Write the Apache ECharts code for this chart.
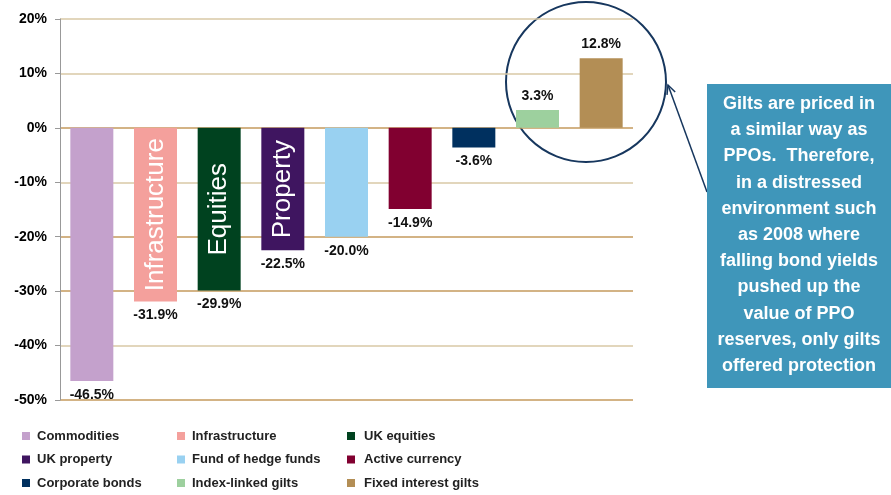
<!DOCTYPE html>
<html>
<head>
<meta charset="utf-8">
<script src="https://cdn.jsdelivr.net/npm/echarts@6/dist/echarts.min.js"></script>
<style>
    html, body { margin: 0; padding: 0; background: #fff; }
    #chart { width: 891px; height: 495px; }
</style>
</head>
<body>
<div id="chart"></div>
<script>
// asset classes, in bar order (legend reads row by row)
const categories = [
    "Commodities", "Infrastructure", "UK equities",
    "UK property", "Fund of hedge funds", "Active currency",
    "Corporate bonds", "Index-linked gilts", "Fixed interest gilts"
];
const values = [-46.5, -31.9, -29.9, -22.5, -20.0, -14.9, -3.6, 3.3, 12.8];
const colors = [
    "#c4a1cc", "#f4a09c", "#00421f",
    "#3f1560", "#99d1f1", "#810030",
    "#00305f", "#9dd09e", "#b38e55"
];
// text written up the inside of some bars
const innerLabels = [null, "Infrastructure", "Equities", "Property", null, null, null, null, null];
const yTicks = { min: -50, max: 20, interval: 10 };
const note = "Gilts are priced in\na similar way as\nPPOs.  Therefore,\nin a distressed\nenvironment such\nas 2008 where\nfalling bond yields\npushed up the\nvalue of PPO\nreserves, only gilts\noffered protection";

const font = "Arial, 'Liberation Sans', sans-serif";
const gridDark = "#c49a5c";
const gridLight = "#d9c8a6";

const chart = echarts.init(document.getElementById("chart"));

const series = categories.map((name, i) => ({
    name: name,
    type: "bar",
    stack: "all",
    barWidth: 43,
    itemStyle: { color: colors[i] },
    data: values.map((v, j) => (j === i ? v : "-")),
    label: {
        show: true,
        position: values[i] < 0 ? "bottom" : "top",
        distance: 7,
        formatter: p => p.value.toFixed(1) + "%",
        fontFamily: font,
        fontSize: 14,
        fontWeight: "bold",
        color: "#111"
    },
    markPoint: innerLabels[i] ? {
        silent: true,
        symbol: "rect",
        symbolSize: 0,
        data: [{ coord: [i, values[i] / 2] }],
        label: {
            show: true,
            position: "inside",
            rotate: 90,
            formatter: innerLabels[i],
            fontFamily: font,
            fontSize: 26,
            color: "#fff"
        }
    } : undefined
}));

const legendLeft = [22, 177, 347];
const legendTextLeft = [0, 0, 2];

// arrow from note box to circle
const tail = [707, 192], tip = [668, 85];
const dx = tail[0] - tip[0], dy = tail[1] - tip[1];
const len = Math.sqrt(dx * dx + dy * dy);
const bx = dx / len, by = dy / len;
function wing(a) {
    const c = Math.cos(a), s = Math.sin(a);
    return [tip[0] + 10 * (bx * c - by * s), tip[1] + 10 * (bx * s + by * c)];
}

const options = {
    animation: false,
    grid: { left: 60, right: 258, top: 19, bottom: 95 },
    xAxis: {
        type: "category",
        data: categories,
        axisLine: { show: false },
        axisTick: { show: false },
        axisLabel: { show: false }
    },
    yAxis: {
        type: "value",
        min: yTicks.min,
        max: yTicks.max,
        interval: yTicks.interval,
        axisLine: { show: true, lineStyle: { color: "#999", width: 1 } },
        axisTick: { show: true, length: 5, lineStyle: { color: "#999" } },
        axisLabel: {
            formatter: "{value}%",
            margin: 13,
            fontFamily: font,
            fontSize: 14,
            fontWeight: "bold",
            color: "#000"
        },
        splitLine: {
            show: true,
            lineStyle: {
                width: 1.5,
                color: [gridDark, gridLight, gridDark, gridDark, gridLight, gridDark, gridLight, gridLight]
            }
        }
    },
    legend: legendLeft.map((left, c) => ({
        orient: "vertical",
        left: left,
        top: 429,
        padding: 0,
        height: 66,
        icon: "rect",
        itemWidth: 8,
        itemHeight: 8,
        itemGap: 9.5,
        selectedMode: false,
        data: [categories[c], categories[c + 3], categories[c + 6]],
        textStyle: {
            fontFamily: font,
            fontSize: 13,
            fontWeight: "bold",
            color: "#222",
            lineHeight: 14,
            padding: [0, 0, 0, legendTextLeft[c] + 2]
        }
    })),
    series: series,
    graphic: [
        {
            type: "circle",
            silent: true,
            shape: { cx: 586, cy: 82, r: 80 },
            style: { fill: null, stroke: "#17375e", lineWidth: 2 }
        },
        {
            type: "polyline",
            silent: true,
            shape: { points: [tail, tip] },
            style: { stroke: "#17375e", lineWidth: 1.5 }
        },
        {
            type: "polyline",
            silent: true,
            shape: { points: [wing(0.45), tip, wing(-0.45)] },
            style: { stroke: "#17375e", lineWidth: 1.5, fill: null }
        },
        {
            type: "rect",
            silent: true,
            shape: { x: 707, y: 84, width: 184, height: 304 },
            style: { fill: "#3f96ba" }
        },
        {
            type: "text",
            silent: true,
            x: 799,
            y: 91,
            style: {
                text: note,
                align: "center",
                verticalAlign: "top",
                fill: "#fff",
                fontFamily: font,
                fontSize: 18,
                fontWeight: "bold",
                lineHeight: 26.2
            }
        }
    ]
};

chart.setOption(options, true);
</script>
</body>
</html>
